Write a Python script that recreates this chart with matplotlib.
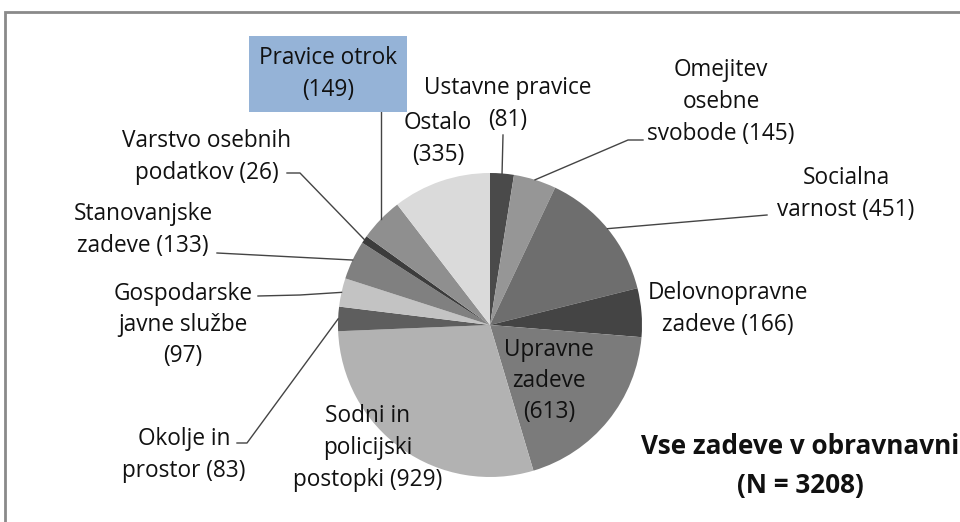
import numpy as np
import matplotlib.pyplot as plt
from matplotlib.patches import Rectangle

# data (clockwise from 12 o'clock)
categories = ['Ustavne pravice', 'Omejitev osebne svobode', 'Socialna varnost',
              'Delovnopravne zadeve', 'Upravne zadeve', 'Sodni in policijski postopki',
              'Okolje in prostor', 'Gospodarske javne službe', 'Stanovanjske zadeve',
              'Varstvo osebnih podatkov', 'Pravice otrok', 'Ostalo']
counts = [81, 145, 451, 166, 613, 929, 83, 97, 133, 26, 149, 335]
label_texts = ['Ustavne pravice\n(81)', 'Omejitev\nosebne\nsvobode (145)',
               'Socialna\nvarnost (451)', 'Delovnopravne\nzadeve (166)',
               'Upravne\nzadeve\n(613)', 'Sodni in\npolicijski\npostopki (929)',
               'Okolje in\nprostor (83)', 'Gospodarske\njavne službe\n(97)',
               'Stanovanjske\nzadeve (133)', 'Varstvo osebnih\npodatkov (26)',
               'Pravice otrok\n(149)', 'Ostalo\n(335)']
colors = ['#4a4a4a', '#969696', '#6e6e6e', '#444444', '#7b7b7b', '#b2b2b2',
          '#5e5e5e', '#c3c3c3', '#808080', '#3c3c3c', '#8f8f8f', '#dadada']

W, H = 960, 522
plt.rcParams['font.family'] = ['Open Sans', 'DejaVu Sans']

fig = plt.figure(figsize=(W / 100, H / 100), dpi=100)
ax = fig.add_axes([0, 0, 1, 1])

# screenshot frame
ax.add_patch(Rectangle((5, -20), 1000, H - 12 + 20, fill=False,
                       edgecolor='#8a8a8a', linewidth=2))

cx, cy, r = 490, H - 325, 152
wedges, _ = ax.pie(counts, colors=colors, startangle=90, counterclock=False,
                   center=(cx, cy), radius=r, frame=True,
                   wedgeprops=dict(linewidth=0))
ax.set_xlim(0, W)
ax.set_ylim(0, H)
ax.set_aspect('equal')
ax.axis('off')

def edge_point(i, frac=1.0):
    w = wedges[i]
    a = np.deg2rad((w.theta1 + w.theta2) / 2)
    return cx + frac * r * np.cos(a), cy + frac * r * np.sin(a)

# label layout in pixel coords (x, y from top)
layout = {
    0: (508, 101),
    1: (721, 99),
    2: (846, 191),
    3: (728, 306),
    4: (549, 378),
    5: (368, 445),
    6: (184, 452),
    7: (183, 322),
    8: (143, 227),
    9: (207, 154),
    10: (328, 74),
    11: (438, 136),
}
fs = 16.3
line_h = 31.5
for i, (x, y) in layout.items():
    if i == 10:
        ax.text(x, H - y, label_texts[i], ha='center', va='center', fontsize=fs,
                linespacing=1.46, color='#111111',
                bbox=dict(boxstyle='square,pad=0.45', facecolor='#95b3d7',
                          edgecolor='none'))
        continue
    lines = label_texts[i].split('\n')
    y0 = y - line_h * (len(lines) - 1) / 2
    for k, line in enumerate(lines):
        ax.text(x, H - (y0 + k * line_h), line, ha='center', va='center_baseline',
                fontsize=fs, color='#111111')

# leader lines: label side typed as layout, wedge side from the pie
lc = dict(color='#444444', linewidth=1)
def leader(i, pts, frac=1.0):
    ex, ey = edge_point(i, frac)
    xs = [p[0] for p in pts] + [ex]
    ys = [H - p[1] for p in pts] + [ey]
    ax.plot(xs, ys, **lc)

leader(0, [(503, 135)])
leader(1, [(643, 140), (628, 140)])
leader(2, [(767, 215)])
leader(6, [(237, 443), (247, 443)])
leader(7, [(258, 296), (300, 295)])
leader(8, [(217, 253)])
leader(9, [(287, 173), (300, 173)])
ex, ey = edge_point(10, 1.0)
ax.plot([ex, ex], [H - 108, ey], **lc)

ax.text(800, H - 466, 'Vse zadeve v obravnavni\n(N = 3208)', ha='center',
        va='center', fontsize=18.8, fontweight='bold', linespacing=1.55,
        color='#111111')

fig.savefig('out.png', dpi=100)
